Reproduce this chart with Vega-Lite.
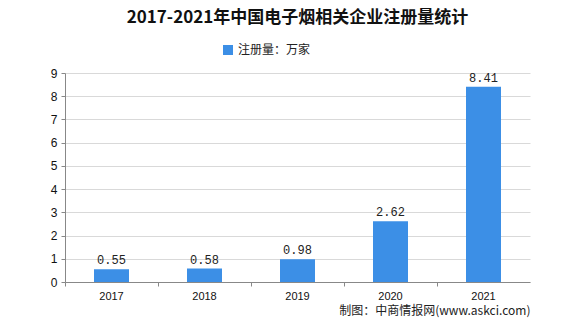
{
  "$schema": "https://vega.github.io/schema/vega-lite/v6.json",
  "width": 465,
  "height": 209,
  "autosize": {"type": "none"},
  "padding": {"left": 65, "top": 73, "right": 46, "bottom": 47},
  "background": "white",
  "title": {
    "text": "2017-2021年中国电子烟相关企业注册量统计",
    "font": "Noto Sans CJK SC",
    "fontSize": 17,
    "fontWeight": "bold",
    "color": "#111111",
    "anchor": "middle",
    "offset": 17
  },
  "data": {
    "values": [
      {"year": "2017", "value": 0.55, "series": "注册量：万家"},
      {"year": "2018", "value": 0.58, "series": "注册量：万家"},
      {"year": "2019", "value": 0.98, "series": "注册量：万家"},
      {"year": "2020", "value": 2.62, "series": "注册量：万家"},
      {"year": "2021", "value": 8.41, "series": "注册量：万家"}
    ]
  },
  "encoding": {
    "x": {
      "field": "year",
      "type": "nominal",
      "scale": {"paddingInner": 0, "paddingOuter": 0},
      "axis": {
        "title": "制图：中商情报网(www.askci.com)",
        "titleFont": "Noto Sans CJK SC",
        "titleFontSize": 12,
        "titleFontWeight": "normal",
        "titleColor": "#222222",
        "titleAnchor": "end",
        "titleAlign": "right",
        "titlePadding": 4,
        "bandPosition": 0,
        "labelAngle": 0,
        "labelFont": "Liberation Sans",
        "labelFontSize": 11,
        "labelColor": "#111111",
        "domainColor": "#888888",
        "tickColor": "#888888",
        "tickSize": 4,
        "labelPadding": 4,
        "grid": false
      }
    },
    "y": {
      "field": "value",
      "type": "quantitative",
      "scale": {"domain": [0, 9], "nice": false},
      "axis": {
        "title": null,
        "values": [0, 1, 2, 3, 4, 5, 6, 7, 8, 9],
        "labelFont": "Liberation Sans",
        "labelFontSize": 12,
        "labelColor": "#111111",
        "domainColor": "#888888",
        "tickColor": "#888888",
        "tickSize": 4,
        "labelPadding": 4,
        "gridColor": "#d9d9d9"
      }
    }
  },
  "layer": [
    {
      "mark": {"type": "bar", "size": 35},
      "encoding": {
        "color": {
          "field": "series",
          "type": "nominal",
          "scale": {"range": ["#3c8fe6"]},
          "legend": {
            "title": null,
            "orient": "none",
            "legendX": 157,
            "legendY": -29,
            "symbolType": "square",
            "symbolSize": 100,
            "labelFont": "Noto Sans CJK SC",
            "labelFontSize": 12,
            "labelColor": "#222222"
          }
        }
      }
    },
    {
      "mark": {"type": "text", "dy": -9, "font": "Liberation Mono", "fontSize": 12, "color": "#222222"},
      "encoding": {
        "text": {"field": "value", "type": "quantitative", "format": ".2f"}
      }
    }
  ],
  "config": {"view": {"stroke": null}}
}
